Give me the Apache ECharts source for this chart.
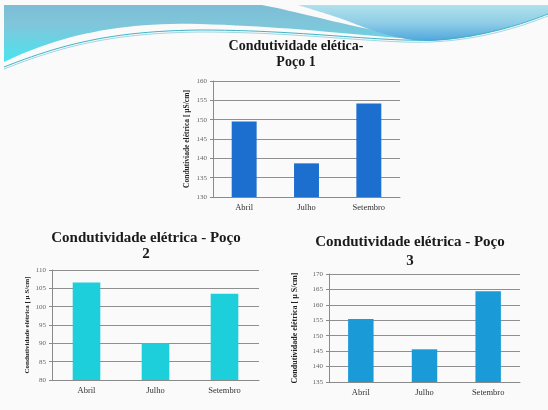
<!DOCTYPE html>
<html>
<head>
<meta charset="utf-8">
<script src="https://cdn.jsdelivr.net/npm/echarts@6/dist/echarts.min.js"></script>
<style>
  html, body { margin: 0; padding: 0; background: #fafafa; }
  #chart { width: 548px; height: 410px; }
</style>
</head>
<body>
<div id="chart"></div>
<script>
// Electrical conductivity per well, sampled in three months
const months = ['Abril', 'Julho', 'Setembro'];
const poco1 = [149.5, 138.7, 154.2];
const poco2 = [106.6, 90.0, 103.5];
const poco3 = [155.4, 145.6, 164.4];

const titles = [
  'Condutividade elética-\nPoço 1',
  'Condutividade elétrica - Poço\n2',
  'Condutividade elétrica - Poço\n3'
];
const axisNames = [
  'Condutiviade elétrica [ µS/cm]',
  'Condutividade elétrica [ µ S/cm]',
  'Condutividade elétrica [ µ S/cm]'
];

const serif = "'Liberation Serif', 'DejaVu Serif', serif";
const chart = echarts.init(document.getElementById('chart'));

const grids = [
  { left: 213, top: 81, width: 187, height: 116 },
  { left: 52, top: 270, width: 207, height: 110 },
  { left: 329, top: 274, width: 191, height: 108 }
];
const ranges = [[130, 160], [80, 110], [135, 170]];
const barColors = ['#1c6ecf', '#1ccfdb', '#1a9bd8'];
const nameGaps = [22, 21, 30];
const nameSizes = [7.5, 7, 8];

function yAxis(i) {
  return {
    type: 'value', gridIndex: i,
    min: ranges[i][0], max: ranges[i][1], interval: 5,
    name: axisNames[i], nameLocation: 'middle', nameRotate: 90, nameGap: nameGaps[i],
    nameTextStyle: { fontFamily: serif, fontWeight: 'bold', fontSize: nameSizes[i], color: '#222' },
    axisLine: { show: true, lineStyle: { color: '#8a8a8a', width: 1 } },
    axisTick: { show: true, length: 3, lineStyle: { color: '#8a8a8a' } },
    axisLabel: { fontFamily: serif, fontSize: 7, color: '#666', margin: 6 },
    splitLine: { show: true, lineStyle: { color: '#8f8f8f', width: 1 } }
  };
}
function xAxis(i) {
  return {
    type: 'category', gridIndex: i, data: months,
    axisLine: { show: true, lineStyle: { color: '#8a8a8a', width: 1 } },
    axisTick: { show: false },
    axisLabel: { fontFamily: serif, fontSize: 8.5, color: '#333', margin: 6 }
  };
}
function series(i, data) {
  return {
    type: 'bar', xAxisIndex: i, yAxisIndex: i, data: data,
    barWidth: '40%', itemStyle: { color: barColors[i] }, silent: true
  };
}

// Sample a chain of cubic Bezier segments into a point list for polygons/polylines
function curve(start, segs) {
  const pts = [start];
  let p0 = start;
  segs.forEach(function (s) {
    const c1 = s[0], c2 = s[1], p3 = s[2];
    for (let k = 1; k <= 24; k++) {
      const t = k / 24, u = 1 - t;
      pts.push([
        u * u * u * p0[0] + 3 * u * u * t * c1[0] + 3 * u * t * t * c2[0] + t * t * t * p3[0],
        u * u * u * p0[1] + 3 * u * u * t * c1[1] + 3 * u * t * t * c2[1] + t * t * t * p3[1]
      ]);
    }
    p0 = p3;
  });
  return pts;
}

const leftSwoosh = [[4, 5]].concat(
  curve([262, 5], [[[300, 12], [360, 30], [430, 40]], [[360, 36], [300, 27], [200, 24]], [[120, 22], [60, 35], [4, 62]]])
);
const rightSwoosh = [[548, 5], [548, 14]].concat(
  curve([548, 14], [[[520, 24], [480, 39], [430, 41]], [[400, 41], [370, 30], [345, 20]], [[325, 13], [310, 9], [298, 5]]])
);
const accent1 = curve([4, 67], [[[60, 45], [110, 31], [200, 30]], [[300, 30], [380, 42], [430, 40]], [[480, 38], [520, 25], [548, 14]]]);
const accent2 = curve([4, 69], [[[60, 47], [110, 33], [200, 32]], [[300, 32], [380, 44], [430, 42]], [[480, 40], [520, 27], [548, 16]]]);

chart.setOption({
  animation: false,
  backgroundColor: '#fafafa',
  title: [
    { text: titles[0], left: 291, top: 33, textAlign: 'center',
      textStyle: { fontFamily: serif, fontWeight: 'bold', fontSize: 14, lineHeight: 16, color: '#1a1a1a' } },
    { text: titles[1], left: 141, top: 225, textAlign: 'center',
      textStyle: { fontFamily: serif, fontWeight: 'bold', fontSize: 15, lineHeight: 16, color: '#1a1a1a' } },
    { text: titles[2], left: 405, top: 228, textAlign: 'center',
      textStyle: { fontFamily: serif, fontWeight: 'bold', fontSize: 15, lineHeight: 19, color: '#1a1a1a' } }
  ],
  grid: grids,
  xAxis: [xAxis(0), xAxis(1), xAxis(2)],
  yAxis: [yAxis(0), yAxis(1), yAxis(2)],
  series: [series(0, poco1), series(1, poco2), series(2, poco3)],
  graphic: [
    { type: 'polygon', z: -10, silent: true,
      shape: { points: leftSwoosh },
      style: { fill: new echarts.graphic.LinearGradient(0, 0, 0, 1, [
        { offset: 0, color: '#7dbdd6' }, { offset: 0.35, color: '#80c6da' }, { offset: 1, color: '#48e4ee' } ]) } },
    { type: 'polygon', z: -10, silent: true,
      shape: { points: rightSwoosh },
      style: { fill: new echarts.graphic.LinearGradient(0, 0, 0, 1, [
        { offset: 0, color: '#b0e1eb' }, { offset: 0.5, color: '#8fcde6' }, { offset: 1, color: '#4fa6de' } ]) } },
    { type: 'polyline', z: -9, silent: true,
      shape: { points: accent1 },
      style: { fill: null, stroke: '#3fb3c8', lineWidth: 1 } },
    { type: 'polyline', z: -9, silent: true,
      shape: { points: accent2 },
      style: { fill: null, stroke: '#9fd8e2', lineWidth: 1 } }
  ]
});
</script>
</body>
</html>
